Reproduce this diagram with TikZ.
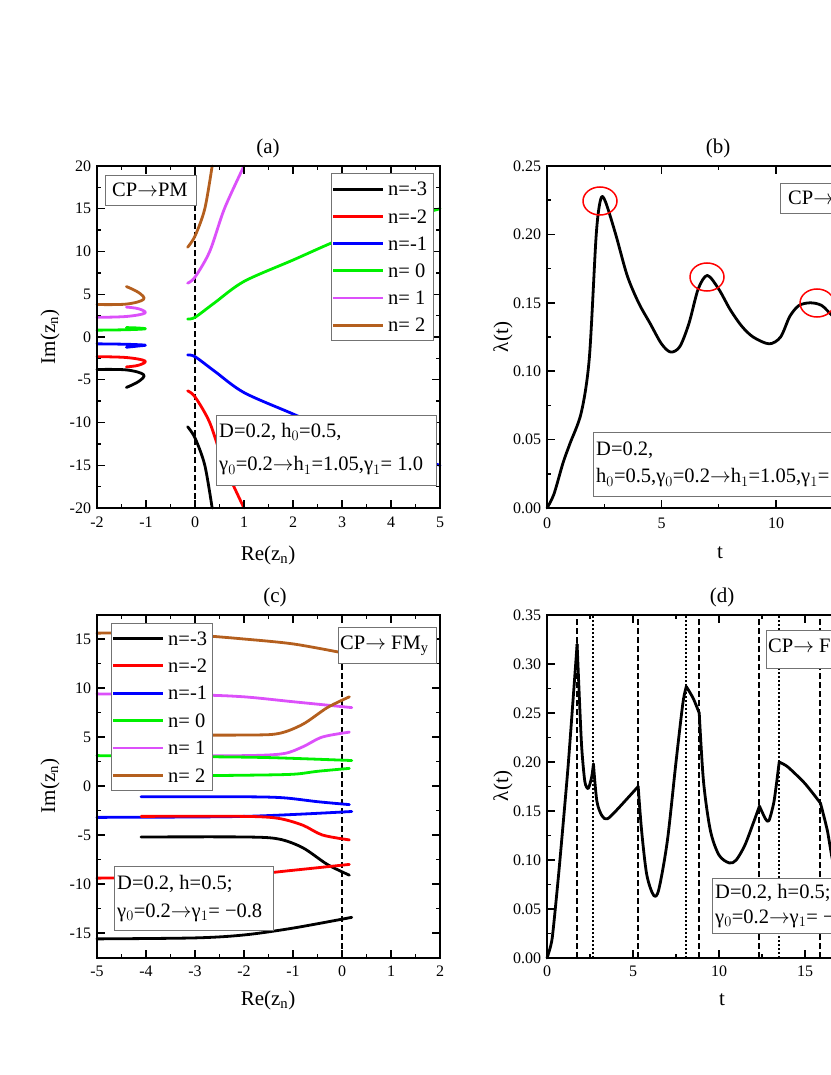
\documentclass[tikz,border=0pt]{standalone}
\usepackage{fontspec}
\setmainfont{Liberation Serif}
\newcommand{\arr}{$\rightarrow$}
\begin{document}
\begin{tikzpicture}[x=1pt,y=-1pt,
  frame/.style={line width=2pt},
  tk/.style={line width=1.4pt},
  crv/.style={line width=2.8pt,line join=round,line cap=round},
  tl/.style={font=\fontsize{16}{18}\selectfont},
  lab/.style={font=\fontsize{21}{23}\selectfont},
  pbox/.style={draw=black!55,fill=white,line width=0.9pt,inner sep=0pt},
  btxt/.style={font=\fontsize{20.5}{22}\selectfont,anchor=west,inner sep=0pt},
  vdash/.style={line width=2pt,dash pattern=on 6pt off 3pt},
  vdot/.style={line width=2pt,dash pattern=on 2pt off 2pt},
  cA/.style={crv,black}, cB/.style={crv,red}, cC/.style={crv,blue}]
\useasboundingbox (0,0) rectangle (830,1075);
\definecolor{mag}{RGB}{220,80,250}
\definecolor{brw}{RGB}{180,95,30}
\definecolor{grn}{RGB}{0,240,0}
\tikzset{cE/.style={crv,mag}, cF/.style={crv,brw}, cD/.style={crv,grn}}
% ================= panel (a)
\begin{scope}[shift={(195pt,-337pt)},x=49pt,y=8.55pt]
 \draw[vdash] (0,-20) -- (0,20);
 \draw[cF] plot[smooth,tension=0.6] coordinates {(-2,3.8) (-1.4,3.85) (-1.05,4.4) (-1.15,5.2) (-1.4,5.9)};
 \draw[cE] plot[smooth,tension=0.6] coordinates {(-2,2.3) (-1.4,2.4) (-1.02,2.8) (-1.15,3.3) (-1.4,3.5)};
 \draw[cD] plot[smooth,tension=0.6] coordinates {(-2,0.8) (-1.4,0.85) (-1.02,0.95) (-1.15,1.05) (-1.4,1.1)};
 \draw[cC] plot[smooth,tension=0.6] coordinates {(-2,-0.8) (-1.4,-0.85) (-1.02,-0.95) (-1.15,-1.05) (-1.4,-1.2)};
 \draw[cB] plot[smooth,tension=0.6] coordinates {(-2,-2.3) (-1.4,-2.4) (-1.02,-2.8) (-1.15,-3.3) (-1.4,-3.5)};
 \draw[cA] plot[smooth,tension=0.6] coordinates {(-2,-3.8) (-1.4,-3.85) (-1.05,-4.4) (-1.15,-5.2) (-1.4,-5.9)};
 \draw[cF] plot[smooth] coordinates {(-0.15,10.5) (0,11.8) (0.2,15) (0.35,20)};
 \draw[cE] plot[smooth] coordinates {(-0.15,6.3) (0,7) (0.3,10) (0.6,15) (1,20)};
 \draw[cD] plot[smooth] coordinates {(-0.15,2.1) (0,2.3) (0.4,4) (1,6.5) (2,9) (3,11.5) (4,13.4) (5,15)};
 \draw[cC] plot[smooth] coordinates {(-0.15,-2.1) (0,-2.3) (0.4,-4) (1,-6.5) (2,-9) (3,-11.5) (4,-13.4) (5,-15)};
 \draw[cB] plot[smooth] coordinates {(-0.15,-6.3) (0,-7) (0.3,-10) (0.6,-15) (1,-20)};
 \draw[cA] plot[smooth] coordinates {(-0.15,-10.5) (0,-11.8) (0.2,-15) (0.35,-20)};
 \draw[frame] (-2,-20) rectangle (5,20);
 \foreach \x in {-2,...,5} {\draw[tk] (\x,-20) -- ++(0,8pt); \draw[tk] (\x,20) -- ++(0,-8pt);
   \node[tl,below] at (\x,-20.6) {\x};}
 \foreach \x in {-1.5,-0.5,...,4.5} {\draw[tk] (\x,-20) -- ++(0,4pt); \draw[tk] (\x,20) -- ++(0,-4pt);}
 \foreach \y in {-20,-15,...,20} {\draw[tk] (-2,\y) -- ++(8pt,0); \draw[tk] (5,\y) -- ++(-8pt,0);
   \node[tl,left] at (-2.05,\y) {\y};}
 \foreach \y in {-17.5,-12.5,...,17.5} {\draw[tk] (-2,\y) -- ++(4pt,0); \draw[tk] (5,\y) -- ++(-4pt,0);}
\end{scope}
\node[lab] (ta) at (268,148) {(a)};
\node[lab] (xa) at (268,555) {Re(z$_{\rm n}$)};
\node[lab,rotate=90] (ya) at (50,337) {Im(z$_{\rm n}$)};
\node[pbox,anchor=north west,minimum width=91pt,minimum height=30pt] (cpa) at (105,175) {};
\node[btxt] at (112,190) {CP\arr PM};
\node[pbox,anchor=north west,minimum width=102pt,minimum height=167pt] (lega) at (331,173) {};
\foreach \s/\t [count=\i] in {cA/{-3},cB/{-2},cC/{-1},cD/{ 0},cE/{ 1},cF/{ 2}} {
  \draw[\s,line cap=butt] (333,{162+27.2*\i}) -- (383,{162+27.2*\i});
  \node[btxt] at (388,{162+27.2*\i}) {n=\t};}
\node[pbox,anchor=north west,minimum width=220pt,minimum height=70pt] (para) at (216,415) {};
\node[btxt] at (219,432) {D=0.2, h$_0$=0.5,};
\node[btxt] at (219,466) {γ$_0$=0.2\arr h$_1$=1.05,γ$_1$= 1.0};
% ================= panel (b)
\begin{scope}[shift={(547pt,-508pt)},x=22.9pt,y=1368pt]
 \draw[crv] plot[smooth,tension=0.5] coordinates {(0,0) (0.3,0.01) (0.7,0.033) (1.0,0.047) (1.5,0.07) (1.85,0.11) (2.15,0.2) (2.35,0.226) (2.55,0.224) (3,0.2) (3.5,0.17) (4,0.15) (4.5,0.135) (5,0.12) (5.4,0.114) (5.8,0.118) (6.2,0.135) (6.6,0.16) (7,0.17) (7.5,0.16) (8,0.145) (8.5,0.133) (9,0.125) (9.7,0.12) (10.2,0.125) (10.6,0.14) (11,0.148) (11.5,0.15) (12,0.148) (12.5,0.14) (13,0.135)};
 \draw[frame] (0,0) rectangle (15,0.25);
 \foreach \x in {0,5,10,15} {\draw[tk] (\x,0) -- ++(0,8pt); \draw[tk] (\x,0.25) -- ++(0,-8pt);
   \node[tl,below] at (\x,-0.0045) {\x};}
 \foreach \x in {2.5,7.5,12.5} {\draw[tk] (\x,0) -- ++(0,4pt); \draw[tk] (\x,0.25) -- ++(0,-4pt);}
 \foreach \y/\l in {0/0.00,0.05/0.05,0.1/0.10,0.15/0.15,0.2/0.20,0.25/0.25} {\draw[tk] (0,\y) -- ++(8pt,0);
   \node[tl,left] at (-0.1,\y) {\l};}
 \foreach \y in {0.025,0.075,0.125,0.175,0.225} {\draw[tk] (0,\y) -- ++(4pt,0);}
\end{scope}
\foreach \cx/\cy [count=\i] in {600/201,707/277,817/303} \draw[red,line width=1.5pt] (\cx,\cy) ellipse (17 and 14);
\node[lab] (tb) at (718,148) {(b)};
\node[lab] (xb) at (720,553) {t};
\node[lab,rotate=90] (yb) at (503,337) {λ(t)};
\node[pbox,anchor=north west,minimum width=100pt,minimum height=30pt] (cpb) at (780,183) {};
\node[btxt] at (788,198) {CP\arr PM};
\node[pbox,anchor=north west,minimum width=300pt,minimum height=64pt] (parb) at (593,432) {};
\node[btxt] at (596,450) {D=0.2,};
\node[btxt] at (596,478) {h$_0$=0.5,γ$_0$=0.2\arr h$_1$=1.05,γ$_1$=1.0};
% ================= panel (c)
\begin{scope}[shift={(342pt,-786pt)},x=49pt,y=9.8pt]
 \draw[vdash] (0,-17.5) -- (0,13);
 \draw[cF] plot[smooth] coordinates {(-5,15.6) (-4,15.6) (-3,15.4) (-2,15) (-1,14.5) (0,13.6)};
 \draw[cE] plot[smooth] coordinates {(-5,9.4) (-3,9.3) (-2,9.1) (-1,8.6) (0.2,8)};
 \draw[cF] plot[smooth] coordinates {(-4.1,5.2) (-2,5.2) (-1.3,5.35) (-0.8,6.3) (-0.3,8) (0.15,9.1)};
 \draw[cE] plot[smooth] coordinates {(-4.1,3.1) (-2,3.1) (-1.2,3.3) (-0.8,4) (-0.4,5) (0.15,5.5)};
 \draw[cD] plot[smooth] coordinates {(-5,3.1) (-3,3) (-1.5,2.9) (0.2,2.6)};
 \draw[cD] plot[smooth] coordinates {(-4.1,1) (-2,1.1) (-1,1.2) (-0.5,1.5) (0.15,1.8)};
 \draw[cC] plot[smooth] coordinates {(-4.1,-1.1) (-2,-1.1) (-1.2,-1.2) (-0.5,-1.6) (0.15,-1.9)};
 \draw[cC] plot[smooth] coordinates {(-5,-3.2) (-2,-3.1) (0.2,-2.6)};
 \draw[cB] plot[smooth] coordinates {(-4.1,-3.1) (-2,-3.1) (-1.3,-3.3) (-0.8,-4) (-0.4,-5) (0.15,-5.5)};
 \draw[cA] plot[smooth] coordinates {(-4.1,-5.2) (-2,-5.2) (-1.3,-5.4) (-0.8,-6.3) (-0.3,-8) (0.15,-9.1)};
 \draw[cB] plot[smooth] coordinates {(-5,-9.4) (-3,-9.3) (-2,-9.1) (-1,-8.6) (0.15,-8)};
 \draw[cA] plot[smooth] coordinates {(-5,-15.6) (-3,-15.5) (-2,-15.2) (-1,-14.5) (0.2,-13.4)};
 \draw[frame] (-5,-17.5) rectangle (2,17.5);
 \foreach \x in {-5,...,2} {\draw[tk] (\x,-17.5) -- ++(0,8pt); \draw[tk] (\x,17.5) -- ++(0,-8pt);
   \node[tl,below] at (\x,-18) {\x};}
 \foreach \x in {-4.5,-3.5,...,1.5} {\draw[tk] (\x,-17.5) -- ++(0,4pt); \draw[tk] (\x,17.5) -- ++(0,-4pt);}
 \foreach \y in {-15,-10,...,15} {\draw[tk] (-5,\y) -- ++(8pt,0); \draw[tk] (2,\y) -- ++(-8pt,0);
   \node[tl,left] at (-5.05,\y) {\y};}
 \foreach \y in {-17.5,-12.5,...,17.5} {\draw[tk] (-5,\y) -- ++(4pt,0); \draw[tk] (2,\y) -- ++(-4pt,0);}
\end{scope}
\node[lab] (tc) at (275,597) {(c)};
\node[lab] (xc) at (268,1000) {Re(z$_{\rm n}$)};
\node[lab,rotate=90] (yc) at (50,786) {Im(z$_{\rm n}$)};
\node[pbox,anchor=north west,minimum width=98pt,minimum height=36pt] (cpc) at (338,627) {};
\node[btxt] at (340,646) {CP\arr\ FM$_{\rm y}$};
\node[pbox,anchor=north west,minimum width=101pt,minimum height=167pt] (legc) at (111,623) {};
\foreach \s/\t [count=\i] in {cA/{-3},cB/{-2},cC/{-1},cD/{ 0},cE/{ 1},cF/{ 2}} {
  \draw[\s,line cap=butt] (113,{611+27.4*\i}) -- (163,{611+27.4*\i});
  \node[btxt] at (168,{611+27.4*\i}) {n=\t};}
\node[pbox,anchor=north west,minimum width=159pt,minimum height=64pt] (parc) at (114,866) {};
\node[btxt] at (117,884) {D=0.2, h=0.5;};
\node[btxt] at (117,913) {γ$_0$=0.2\arr γ$_1$= −0.8};
% ================= panel (d)
\begin{scope}[shift={(547pt,-958pt)},x=17.2pt,y=980pt]
 \foreach \t in {1.75,5.3,8.85,12.35,15.9} \draw[vdash] (\t,0) -- (\t,0.35);
 \foreach \t in {2.7,8.1,13.5} \draw[vdot] (\t,0) -- (\t,0.35);
 \draw[crv] plot[smooth,tension=0.35] coordinates {(0,0) (0.3,0.02) (0.7,0.09) (1.2,0.19) (1.5,0.26) (1.75,0.32)};
 \draw[crv] plot[smooth,tension=0.4] coordinates {(1.75,0.32) (2.0,0.22) (2.2,0.18) (2.4,0.173) (2.6,0.185) (2.7,0.198)};
 \draw[crv] plot[smooth,tension=0.5] coordinates {(2.7,0.198) (2.9,0.16) (3.2,0.145) (3.5,0.142) (4,0.15) (5.3,0.175)};
 \draw[crv] plot[smooth,tension=0.5] coordinates {(5.3,0.175) (5.5,0.13) (5.8,0.085) (6.2,0.064) (6.5,0.07) (7,0.12) (7.5,0.2) (7.9,0.26) (8.1,0.277)};
 \draw[crv] plot[smooth,tension=0.4] coordinates {(8.1,0.277) (8.5,0.265) (8.85,0.25)};
 \draw[crv] plot[smooth,tension=0.5] coordinates {(8.85,0.25) (9.1,0.18) (9.5,0.13) (10,0.105) (10.6,0.097) (11,0.1) (11.5,0.115) (12,0.138) (12.35,0.155)};
 \draw[crv] plot[smooth,tension=0.4] coordinates {(12.35,0.155) (12.7,0.142) (12.9,0.14) (13.2,0.16) (13.5,0.2)};
 \draw[crv] plot[smooth,tension=0.4] coordinates {(13.5,0.2) (14,0.195) (15,0.178) (15.9,0.158)};
 \draw[crv] plot[smooth,tension=0.4] coordinates {(15.9,0.158) (16.3,0.13) (16.6,0.1) (17,0.08)};
 \draw[frame] (0,0) rectangle (20,0.35);
 \foreach \x in {0,5,10,15,20} {\draw[tk] (\x,0) -- ++(0,8pt); \draw[tk] (\x,0.35) -- ++(0,-8pt);
   \node[tl,below] at (\x,-0.0045) {\x};}
 \foreach \x in {2.5,7.5,12.5,17.5} {\draw[tk] (\x,0) -- ++(0,4pt); \draw[tk] (\x,0.35) -- ++(0,-4pt);}
 \foreach \y/\l in {0/0.00,0.05/0.05,0.1/0.10,0.15/0.15,0.2/0.20,0.25/0.25,0.3/0.30,0.35/0.35} {\draw[tk] (0,\y) -- ++(8pt,0);
   \node[tl,left] at (-0.13,\y) {\l};}
 \foreach \y in {0.025,0.075,...,0.325} {\draw[tk] (0,\y) -- ++(4pt,0);}
\end{scope}
\node[lab] (td) at (722,597) {(d)};
\node[lab] (xd) at (722,1000) {t};
\node[lab,rotate=90] (yd) at (503,786) {λ(t)};
\node[pbox,anchor=north west,minimum width=110pt,minimum height=38pt] (cpd) at (766,630) {};
\node[btxt] at (768,649) {CP\arr\ FM$_{\rm y}$};
\node[pbox,anchor=north west,minimum width=170pt,minimum height=55pt] (pard) at (712,878) {};
\node[btxt] at (715,893) {D=0.2, h=0.5;};
\node[btxt] at (715,919) {γ$_0$=0.2\arr γ$_1$= −0.8};
\end{tikzpicture}
\end{document}
